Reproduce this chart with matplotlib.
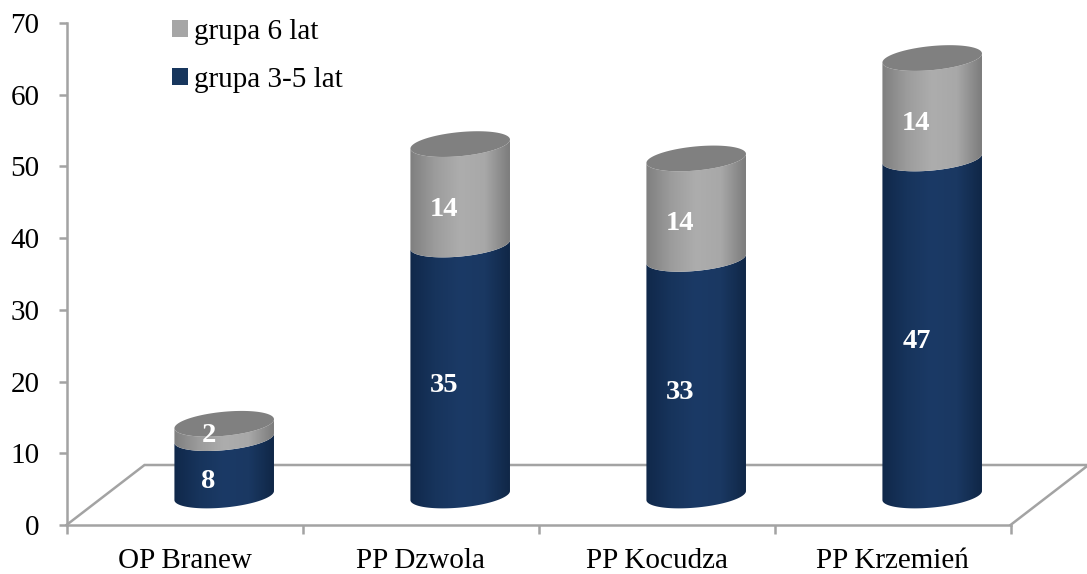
import numpy as np
import matplotlib
matplotlib.use("Agg")
import matplotlib.pyplot as plt
from matplotlib.colors import LinearSegmentedColormap
from matplotlib.patches import Polygon, Patch

categories = ["OP Branew", "PP Dzwola", "PP Kocudza", "PP Krzemień"]
group_3_5 = [8, 35, 33, 47]
group_6 = [2, 14, 14, 14]
series_names = ["grupa 6 lat", "grupa 3-5 lat"]
y_ticks = [0, 10, 20, 30, 40, 50, 60, 70]

plt.rcParams["font.family"] = ["Liberation Serif", "DejaVu Serif"]
W, H = 1087, 574
fig = plt.figure(figsize=(W / 100, H / 100), dpi=100)
L, R, B, T = 66.5, 1010.5, 525, 23
ax = fig.add_axes([L / W, (H - B) / H, (R - L) / W, (B - T) / H])
ax.set_xlim(-0.5, len(categories) - 0.5)
ax.set_ylim(0, 70)

ux = (R - L) / len(categories)   # px per category
uy = (B - T) / 70                # px per unit
AXC = "#a3a3a3"
LW = 1.8

for s in ("top", "right"):
    ax.spines[s].set_visible(False)
for s in ("left", "bottom"):
    ax.spines[s].set_color(AXC)
    ax.spines[s].set_linewidth(LW)
ax.set_yticks(y_ticks)
ax.set_xticks(np.arange(len(categories) + 1) - 0.5)
ax.set_xticklabels([])
ax.set_xticks(np.arange(len(categories)), labels=categories, minor=True)
ax.tick_params(axis="y", length=6, width=LW, color=AXC, labelsize=21, pad=13.5, labelcolor="black")
ax.tick_params(axis="x", which="major", length=6.5, width=LW, color=AXC)
ax.tick_params(axis="x", which="minor", length=0, labelsize=21, pad=16.5, labelcolor="black")

# floor of the 3D box
depth_x, depth_y = 78 / ux, 60 / uy
x0, x1 = -0.5, len(categories) - 0.5
ax.plot([x0, x0 + depth_x, x1 + depth_x, x1], [0, depth_y, depth_y, 0],
        color=AXC, lw=LW, clip_on=False, zorder=1, solid_joinstyle="miter")

navy = LinearSegmentedColormap.from_list("n", ["#10284a", "#17345c", "#1b3a66", "#1a3862", "#102747"])
grey = LinearSegmentedColormap.from_list("g", ["#7f7f7f", "#9c9c9c", "#adadad", "#a8a8a8", "#7c7c7c"])
grad = np.linspace(0, 1, 256).reshape(1, -1)

a, b, tilt = 50.0, 12.0, np.radians(5.5)
off_x, off_y = 39.7, 29.5
t_ext = np.arctan2(-b * np.sin(tilt), a * np.cos(tilt))


def ellipse(cx, v, t):
    """points of a tilted ellipse, centred at bar x cx (data), height v (data)."""
    px = a * np.cos(t) * np.cos(tilt) - b * np.sin(t) * np.sin(tilt)
    py = a * np.cos(t) * np.sin(tilt) + b * np.sin(t) * np.cos(tilt)
    return np.column_stack([cx + px / ux, v + (off_y + py) / uy])


t_lower = np.linspace(t_ext - np.pi, t_ext, 80)  # left extreme -> lower arc -> right extreme


def segment(cx, v0, v1, cmap):
    poly = np.vstack([ellipse(cx, v0, t_lower), ellipse(cx, v1, t_lower[::-1])])
    im = ax.imshow(grad, cmap=cmap, aspect="auto", zorder=3, interpolation="bilinear",
                   extent=[cx - a / ux, cx + a / ux, 0, 70])
    im.set_clip_path(Polygon(poly, closed=True, transform=ax.transData))


for i, (v1, v2) in enumerate(zip(group_3_5, group_6)):
    cx = i + off_x / ux
    segment(cx, 0, v1, navy)
    segment(cx, v1, v1 + v2, grey)
    top = ellipse(cx, v1 + v2, np.linspace(0, 2 * np.pi, 160))
    ax.add_patch(Polygon(top, closed=True, fc="#808080", ec="none", zorder=4))
    lx = i + 24 / ux
    for val, mid in ((v1, v1 / 2), (v2, v1 + v2 / 2)):
        nudge = 10 if val < 5 else 0  # the small label sits higher, over the top face
        ax.text(lx, mid + (14.5 + nudge) / uy, str(val), color="white", fontsize=20.5,
                fontweight="bold", ha="center", va="center", zorder=5)

ax.set_xlim(-0.5, len(categories) - 0.5)
ax.set_ylim(0, 70)

handles = [Patch(fc="#a6a6a6", ec="none"), Patch(fc="#17365d", ec="none")]
fig.legend(handles, series_names, loc="upper left", bbox_to_anchor=(172 / W, 1 - 19 / H),
           bbox_transform=fig.transFigure, frameon=False, fontsize=21,
           handlelength=0.55, handleheight=0.55, handletextpad=0.22,
           labelspacing=0.75, borderpad=0, borderaxespad=0)

fig.savefig("out.png", dpi=100)
